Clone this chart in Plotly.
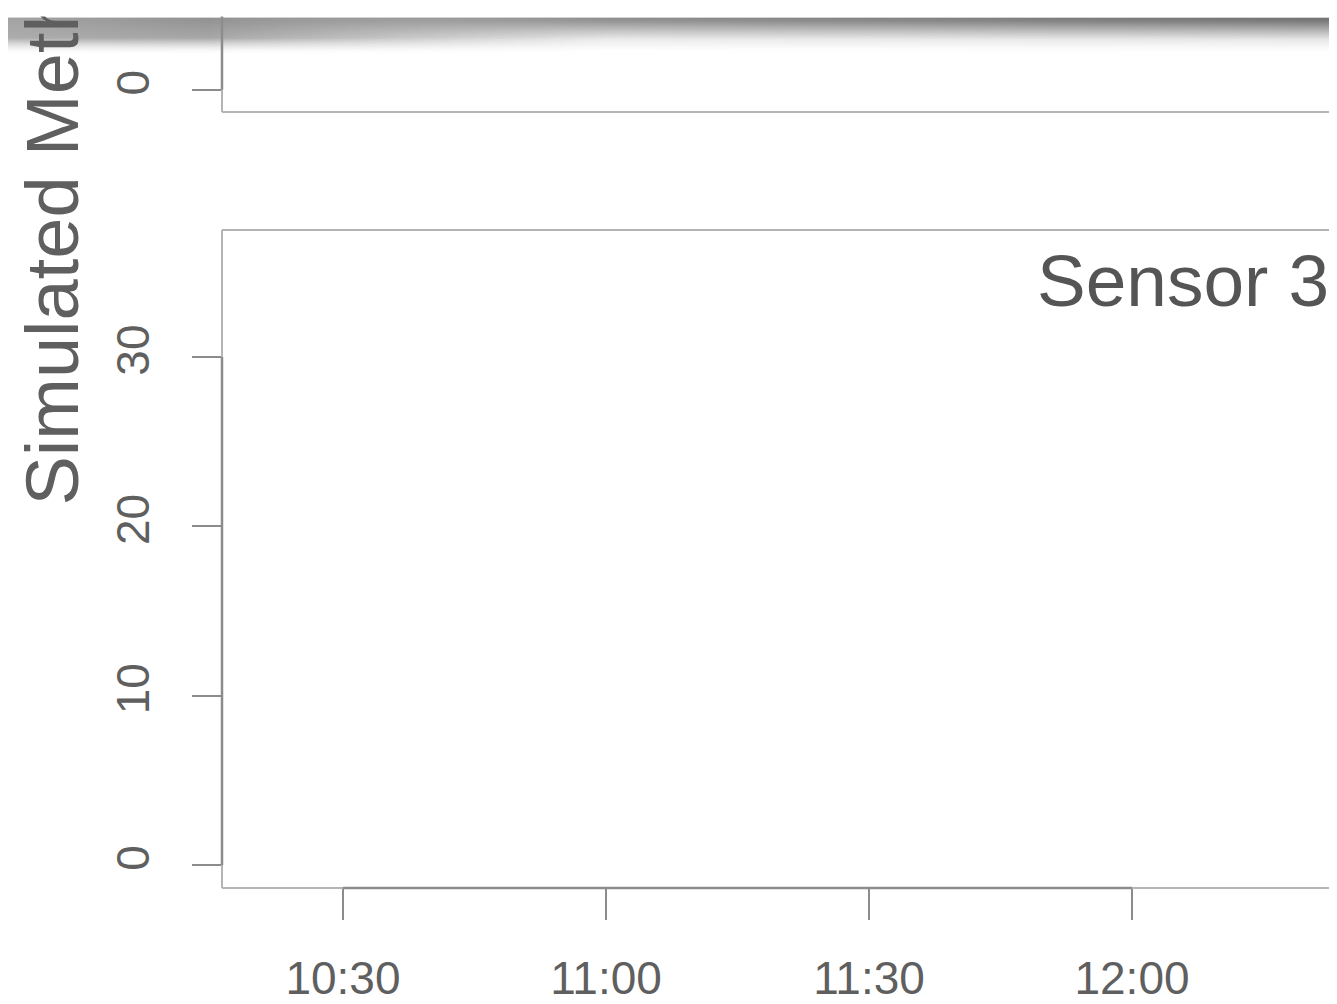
import base64
import plotly.graph_objects as go

# ---- data (no observations are visible in this zoomed view) ----
times = []            # sensor 3 timestamps
methane = []          # simulated methane values
x_tick_vals = ["2024-01-01 10:30", "2024-01-01 11:00", "2024-01-01 11:30", "2024-01-01 12:00"]
x_tick_text = ["10:30", "11:00", "11:30", "12:00"]
y_tick_vals = [0, 10, 20, 30]
y_top_tick_vals = [0]
x_range = ["2024-01-01 10:16:12", "2024-01-01 12:23:23"]
y_range = [-1.36, 37.5]
y_top_range = [-1.418, 5.197]
panel_label = "Sensor 3"
y_title = "Simulated Methane (ppm)"

# page body has an 8px margin: figure coordinates = screen coordinates - 8
OFF = 8
W, H = 1337 - OFF, 1004 - OFF


def px(x):
    return (x - OFF) / W


def py(y):
    return 1 - (y - OFF) / H


TXT = "#5f5f5f"
AX = "#8c8c8c"
BOX = "#b4b4b4"
FONT = "Liberation Sans, Arial, sans-serif"

fig = go.Figure()
fig.add_trace(go.Scatter(x=times, y=methane, mode="lines", line=dict(color="#333"),
                         xaxis="x", yaxis="y", showlegend=False))
fig.add_trace(go.Scatter(x=times, y=methane, mode="lines", line=dict(color="#333"),
                         xaxis="x2", yaxis="y2", showlegend=False))

left = px(222)
common = dict(showgrid=False, zeroline=False, showline=False, automargin=False)
fig.update_layout(
    width=W, height=H,
    margin=dict(l=0, r=0, t=0, b=0, autoexpand=False),
    paper_bgcolor="white", plot_bgcolor="white",
    font=dict(family=FONT, color=TXT),
    showlegend=False,
    xaxis=dict(domain=[left, 1], range=x_range, type="date", anchor="y",
               tickvals=x_tick_vals, ticktext=x_tick_text, ticks="outside",
               ticklen=31, tickwidth=2, tickcolor=AX,
               tickfont=dict(size=46, color=TXT), ticklabelstandoff=19, **common),
    yaxis=dict(domain=[py(888), py(230)], range=y_range, anchor="x",
               tickvals=y_tick_vals, ticks="outside", ticklen=29, tickwidth=2,
               tickcolor=AX, tickangle=-90, tickfont=dict(size=46, color=TXT),
               ticklabelstandoff=25, **common),
    xaxis2=dict(domain=[left, 1], range=x_range, type="date", anchor="y2",
                showticklabels=False, ticks="", **common),
    yaxis2=dict(domain=[py(112), 1], range=y_top_range, anchor="x2",
                tickvals=y_top_tick_vals, ticks="outside", ticklen=29, tickwidth=2,
                tickcolor=AX, tickangle=-90, tickfont=dict(size=46, color=TXT),
                ticklabelstandoff=25, **common),
)

shapes = []
# bottom panel box (lighter)
shapes += [
    dict(type="line", xref="x domain", yref="y domain", x0=0, x1=1.01, y0=0, y1=0, line=dict(color=BOX, width=2)),
    dict(type="line", xref="x domain", yref="y domain", x0=0, x1=1.01, y0=1, y1=1, line=dict(color=BOX, width=2)),
    dict(type="line", xref="x domain", yref="y domain", x0=0, x1=0, y0=0, y1=1, line=dict(color=BOX, width=2)),
]
# bottom panel axis segments (darker, tick to tick)
shapes += [
    dict(type="line", xref="x", yref="y domain", x0=x_tick_vals[0], x1=x_tick_vals[-1], y0=0, y1=0,
         line=dict(color=AX, width=2.5)),
    dict(type="line", xref="x domain", yref="y", x0=0, x1=0, y0=y_tick_vals[0], y1=y_tick_vals[-1],
         line=dict(color=AX, width=2.5)),
]
# top panel box + axis
shapes += [
    dict(type="line", xref="x2 domain", yref="y2 domain", x0=0, x1=1.01, y0=0, y1=0, line=dict(color=BOX, width=2)),
    dict(type="line", xref="x2 domain", yref="y2 domain", x0=0, x1=0, y0=0, y1=1, line=dict(color=BOX, width=2)),
    dict(type="line", xref="x2 domain", yref="y2", x0=0, x1=0, y0=y_top_tick_vals[0], y1=y_top_range[1],
         line=dict(color=AX, width=2.5)),
]
fig.update_layout(shapes=shapes)

# shadow band near top edge (decoration)
SH = 38
svg = f"""<svg xmlns='http://www.w3.org/2000/svg' width='{W}' height='{SH}' viewBox='0 0 {W} {SH}' preserveAspectRatio='none'>
<defs>
<linearGradient id='va' x1='0' y1='0' x2='0' y2='1'>
<stop offset='0' stop-color='#a3a3a3' stop-opacity='1'/>
<stop offset='0.55' stop-color='#a8a8a8' stop-opacity='0.95'/>
<stop offset='0.75' stop-color='#b8b8b8' stop-opacity='0.4'/>
<stop offset='0.9' stop-color='#d0d0d0' stop-opacity='0.1'/>
<stop offset='1' stop-color='#ffffff' stop-opacity='0'/>
</linearGradient>
<linearGradient id='vb' x1='0' y1='0' x2='0' y2='1'>
<stop offset='0' stop-color='#666666' stop-opacity='0.95'/>
<stop offset='0.12' stop-color='#666666' stop-opacity='0.85'/>
<stop offset='0.35' stop-color='#666666' stop-opacity='0.5'/>
<stop offset='0.6' stop-color='#666666' stop-opacity='0.15'/>
<stop offset='0.85' stop-color='#666666' stop-opacity='0.02'/>
<stop offset='1' stop-color='#666666' stop-opacity='0'/>
</linearGradient>
<linearGradient id='ha' x1='0' y1='0' x2='1' y2='0'>
<stop offset='0' stop-color='white' stop-opacity='1'/>
<stop offset='0.15' stop-color='white' stop-opacity='1'/>
<stop offset='0.45' stop-color='white' stop-opacity='0'/>
<stop offset='1' stop-color='white' stop-opacity='0'/>
</linearGradient>
<linearGradient id='hb' x1='0' y1='0' x2='1' y2='0'>
<stop offset='0' stop-color='white' stop-opacity='0'/>
<stop offset='0.15' stop-color='white' stop-opacity='0.3'/>
<stop offset='0.45' stop-color='white' stop-opacity='0.8'/>
<stop offset='1' stop-color='white' stop-opacity='1'/>
</linearGradient>
<mask id='ma'><rect width='{W}' height='{SH}' fill='url(#ha)'/></mask>
<mask id='mb'><rect width='{W}' height='{SH}' fill='url(#hb)'/></mask>
</defs>
<rect width='{W}' height='{SH}' fill='url(#va)' mask='url(#ma)'/>
<rect width='{W}' height='{SH}' fill='url(#vb)' mask='url(#mb)'/>
<rect width='{W}' height='1' fill='#d4d4d4'/>
</svg>"""
src = "data:image/svg+xml;base64," + base64.b64encode(svg.encode()).decode()
fig.update_layout(images=[dict(source=src, xref="paper", yref="paper", x=0, y=py(17),
                               sizex=1, sizey=SH / H, sizing="stretch", xanchor="left",
                               yanchor="top", layer="above")])

fig.update_layout(annotations=[
    dict(text=panel_label, xref="paper", yref="paper", x=px(1331), y=py(280),
         xanchor="right", yanchor="middle", showarrow=False,
         font=dict(size=73, color="#555555", family=FONT)),
    dict(text=y_title, xref="paper", yref="paper", x=px(52), y=py(508),
         xanchor="center", yanchor="bottom", textangle=-90, showarrow=False,
         font=dict(size=74, color=TXT, family=FONT)),
    dict(text=" ", xref="paper", yref="paper", x=px(0), y=py(17), xanchor="left", yanchor="bottom",
         width=1337 + 40, height=60, bgcolor="white", borderpad=0, showarrow=False),
])

fig.write_html("out.html")
